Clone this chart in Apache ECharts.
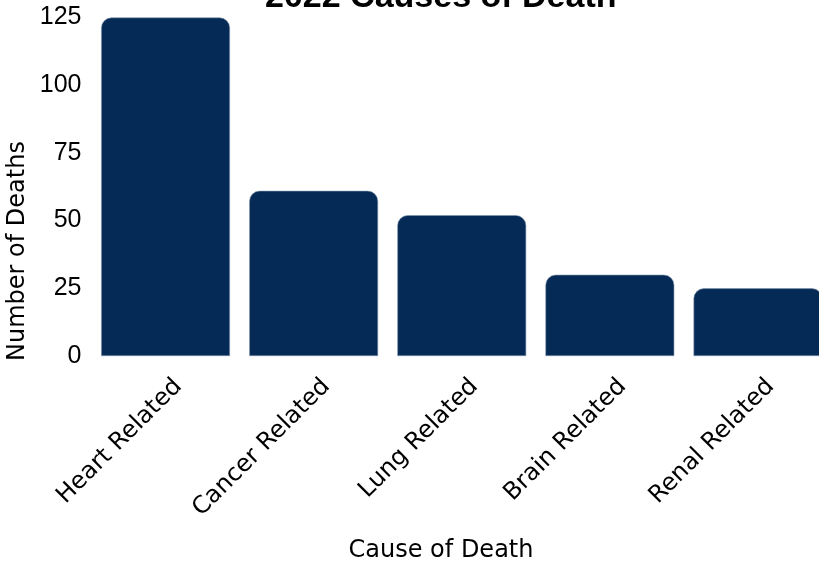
<!DOCTYPE html>
<html>
<head>
<meta charset="utf-8">
<script src="https://cdn.jsdelivr.net/npm/echarts@6/dist/echarts.min.js"></script>
<style>
html,body{margin:0;padding:0;background:#fff;overflow:hidden;width:819px;height:562px;}
#chart{width:832px;height:562px;}
</style>
</head>
<body>
<div id="chart"></div>
<script>
const categories = ['Heart Related', 'Cancer Related', 'Lung Related', 'Brain Related', 'Renal Related'];
const deaths = [125, 61, 52, 30, 25];
const yTicks = [0, 25, 50, 75, 100, 125];

const chart = echarts.init(document.getElementById('chart'));
chart.setOption({
  animation: false,
  backgroundColor: '#ffffff',
  title: {
    text: '2022 Causes of Death',
    left: 265, top: -19, padding: 0,
    textStyle: { fontFamily: 'Liberation Sans', fontWeight: 'bold', fontSize: 34, color: '#000' }
  },
  grid: { left: 91.5, top: 17.5, right: 0, height: 338.5 },
  xAxis: {
    type: 'category',
    data: categories,
    axisLine: { show: false },
    axisTick: { show: false },
    axisLabel: {
      rotate: 45, fontSize: 24, margin: 14, color: '#000',
      fontFamily: 'DejaVu Sans', interval: 0, verticalAlign: 'top', lineHeight: 36
    }
  },
  yAxis: {
    type: 'value',
    min: 0, max: 125, interval: 25,
    splitLine: { show: false },
    axisLine: { show: false },
    axisTick: { show: false },
    axisLabel: { fontSize: 25, color: '#000', margin: 10, fontFamily: 'Liberation Sans',
      formatter: v => yTicks.includes(v) ? String(v) : '' }
  },
  graphic: [
    { type: 'text', x: 18, y: 251, rotation: Math.PI / 2,
      style: { text: 'Number of Deaths', fontSize: 24, fontFamily: 'DejaVu Sans', fill: '#000',
        textAlign: 'center', textVerticalAlign: 'middle' } },
    { type: 'text', x: 441, y: 551,
      style: { text: 'Cause of Death', fontSize: 24, fontFamily: 'DejaVu Sans', fill: '#000',
        textAlign: 'center', textVerticalAlign: 'middle' } }
  ],
  series: [{
    type: 'bar',
    data: deaths,
    barCategoryGap: '13%',
    itemStyle: { color: '#052a56', borderRadius: [10, 10, 0, 0], borderColor: '#7f93ab', borderWidth: 0.6 }
  }]
});
</script>
</body>
</html>
